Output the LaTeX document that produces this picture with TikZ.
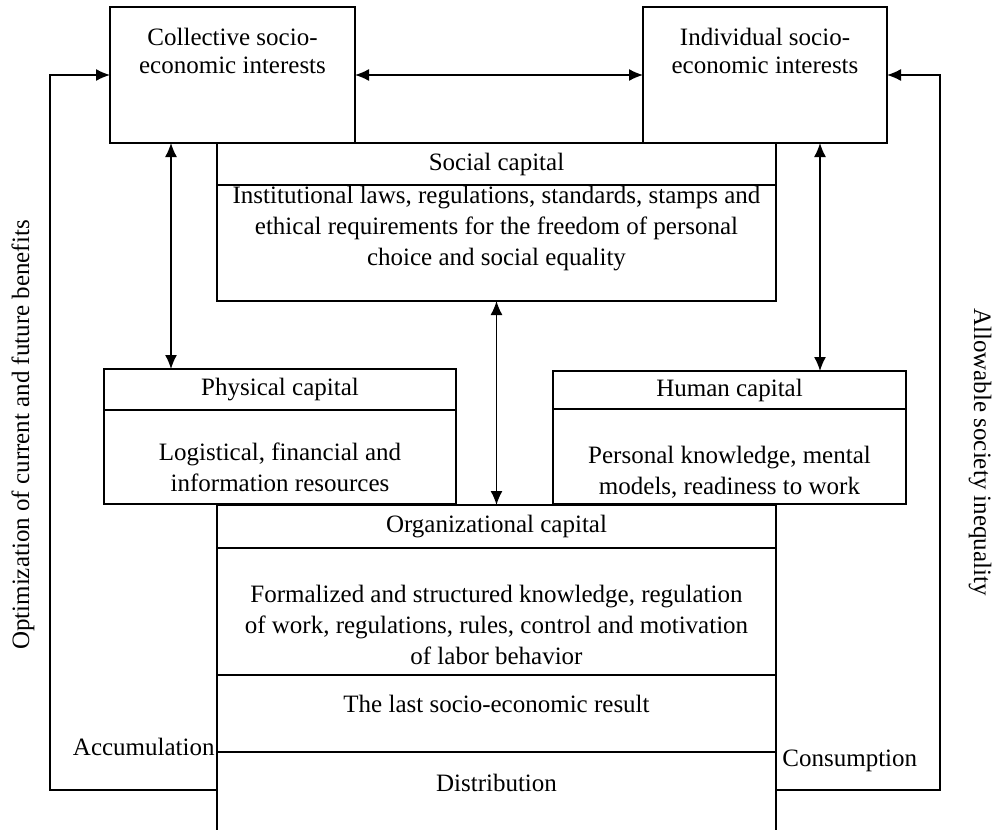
\documentclass[tikz,border=0pt]{standalone}
\usepackage{fontspec}
\setmainfont{Liberation Serif}
\usetikzlibrary{arrows.meta,positioning}

\tikzset{
  box/.style={draw,line width=0.7pt,inner sep=0pt,outer sep=0pt,font=\fontsize{12.5}{15.5}\selectfont},
  txt/.style={align=center,inner sep=0pt,font=\fontsize{12.5}{15.5}\selectfont},
  link/.style={line width=0.7pt,-{Latex[length=7pt,width=6pt]}},
  twoway/.style={line width=0.7pt,{Latex[length=7pt,width=6pt]}-{Latex[length=7pt,width=6pt]}},
}

\begin{document}
\begin{tikzpicture}[x=0.5pt,y=-0.5pt]
\clip (0,0) rectangle (992,830);

% interests
\node[box,minimum width=122.5pt,minimum height=68pt,anchor=north west] (coll) at (110,7) {};
\node[box,minimum width=122pt,minimum height=68pt,anchor=north west] (indiv) at (643,7) {};
\node[txt,font=\fontsize{12.5}{14}\selectfont] (colltxt) at (232.5,51) {Collective socio-\\economic interests};
\node[txt,font=\fontsize{12.5}{14}\selectfont] (indivtxt) at (765,51) {Individual socio-\\economic interests};

% social capital
\node[box,minimum width=279.5pt,minimum height=21pt,anchor=north west] (sochead) at (217,143) {Social capital};
\node[box,minimum width=279.5pt,minimum height=58pt,below=0pt of sochead] (soc) {};
\node[txt] (soctxt) at (496.5,229) {Institutional laws, regulations, standards, stamps and\\ethical requirements for the freedom of personal\\choice and social equality};

% physical and human capital
\node[box,minimum width=176pt,minimum height=20.5pt,anchor=north west] (physhead) at (104,369) {Physical capital};
\node[box,minimum width=176pt,minimum height=47pt,below=0pt of physhead] (phys) {};
\node[txt] (phystxt) at (280,467) {Logistical, financial and\\information resources};
\node[box,minimum width=176.5pt,minimum height=19pt,anchor=north west] (humhead) at (553,371) {Human capital};
\node[box,minimum width=176.5pt,minimum height=47.5pt,below=0pt of humhead] (hum) {};
\node[txt] (humtxt) at (729.5,472) {Personal knowledge, mental\\models, readiness to work};

% organizational capital
\node[box,minimum width=279.5pt,minimum height=21.5pt,anchor=north west] (orghead) at (217,505) {Organizational capital};
\node[box,minimum width=279.5pt,minimum height=63.5pt,below=0pt of orghead] (org) {};
\node[txt] (orgtxt) at (496.5,625) {Formalized and structured knowledge, regulation\\of work, regulations, rules, control and motivation\\of labor behavior};
\node[box,minimum width=279.5pt,minimum height=38.5pt,below=0pt of org] (result) {};
\node[txt] (resulttxt) at (496.5,704) {The last socio-economic result};
\node[box,minimum width=279.5pt,minimum height=49pt,below=0pt of result] (dist) {};
\node[txt] (disttxt) at (496.5,783) {Distribution};

% side labels
\node[txt,anchor=east] (accu) at (215,747) {Accumulation};
\node[txt,anchor=west] (cons) at (782,761) {Consumption};
\node[txt,rotate=90] (optim) at (23,435) {Optimization of current and future benefits};
\node[txt,rotate=-90] (allow) at (980,452) {Allowable society inequality};

% connectors
\draw[twoway] (coll.east) -- (indiv.west);
\draw[twoway] ([xshift=30.5pt]coll.south west) -- ([xshift=30.5pt]coll.south west |- physhead.north);
\draw[twoway] ([xshift=88.5pt]indiv.south west) -- ([xshift=88.5pt]indiv.south west |- humhead.north);
\draw[twoway] (soc.south) -- (soc.south |- orghead.north);
\draw[link] ([yshift=5.5pt]dist.west) -- ++(-167,0) |- (coll.west);
\draw[link] ([yshift=5.5pt]dist.east) -- ++(164,0) |- (indiv.east);
\end{tikzpicture}
\end{document}
